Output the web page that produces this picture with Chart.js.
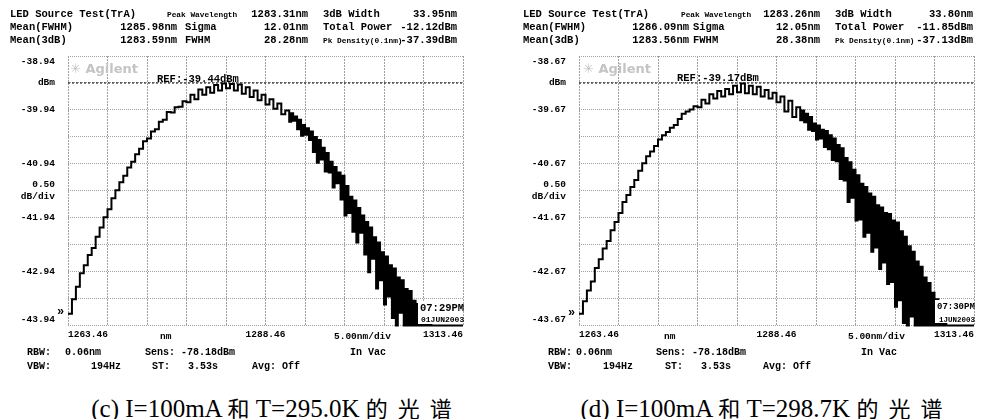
<!DOCTYPE html>
<html>
<head>
<meta charset="utf-8">
<script src="https://cdn.jsdelivr.net/npm/chart.js@4.4.0/dist/chart.umd.min.js"></script>
<style>
  body { margin: 0; background: #fff; }
  #page { position: relative; width: 986px; height: 419px; overflow: hidden;
          font-family: "Liberation Mono", monospace; color: #000; }
  .panel { position: absolute; top: 0; height: 350px; }
  .t { position: absolute; font-size: 10.5px; line-height: 12px; white-space: pre; font-weight: bold; }
  .s { font-size: 7.8px; }
  .b { font-size: 10px; }
  .ax { font-size: 9.5px; }
  .logo { position: absolute; color: #c4c4c4; font: bold 13px "DejaVu Sans", sans-serif; white-space: pre; }
  .stamp { position: absolute; background: #fff; }
  .cap { position: absolute; top: 393px; width: 493px; text-align: center; white-space: pre;
         font: 25px "Liberation Serif", "Noto Sans CJK SC", serif; line-height: 28px; }
  .cj { font-family: "Noto Sans CJK SC", sans-serif; font-size: 22px; }
  .ls { letter-spacing: 10px; }
</style>
</head>
<body>
<div id="page">
  <div class="panel" style="left:0;width:493px"><canvas id="chartC" width="493" height="350"></canvas></div>
  <div class="panel" style="left:511px;width:475px"><canvas id="chartD" width="475" height="350"></canvas></div>

  <!-- header, left -->
  <div class="t" style="left:10px;top:8px">LED Source Test(TrA)</div>
  <div class="t s" style="left:167px;top:9px">Peak Wavelength</div>
  <div class="t" style="right:678px;top:8px">1283.31nm</div>
  <div class="t" style="left:323px;top:8px">3dB Width</div>
  <div class="t" style="right:529px;top:8px">33.95nm</div>
  <div class="t" style="left:10px;top:21px">Mean(FWHM)</div>
  <div class="t" style="right:809px;top:21px">1285.98nm</div>
  <div class="t" style="left:185px;top:21px">Sigma</div>
  <div class="t" style="right:678px;top:21px">12.01nm</div>
  <div class="t" style="left:323px;top:21px">Total Power</div>
  <div class="t" style="right:529px;top:21px">-12.12dBm</div>
  <div class="t" style="left:10px;top:34px">Mean(3dB)</div>
  <div class="t" style="right:809px;top:34px">1283.59nm</div>
  <div class="t" style="left:185px;top:34px">FWHM</div>
  <div class="t" style="right:678px;top:34px">28.28nm</div>
  <div class="t s" style="left:323px;top:35px">Pk Density(0.1nm)</div>
  <div class="t" style="right:529px;top:34px">-37.39dBm</div>

  <!-- header, right -->
  <div class="t" style="left:523px;top:8px">LED Source Test(TrA)</div>
  <div class="t s" style="left:681px;top:9px">Peak Wavelength</div>
  <div class="t" style="right:166px;top:8px">1283.26nm</div>
  <div class="t" style="left:835px;top:8px">3dB Width</div>
  <div class="t" style="right:13px;top:8px">33.80nm</div>
  <div class="t" style="left:523px;top:21px">Mean(FWHM)</div>
  <div class="t" style="right:297px;top:21px">1286.09nm</div>
  <div class="t" style="left:693px;top:21px">Sigma</div>
  <div class="t" style="right:166px;top:21px">12.05nm</div>
  <div class="t" style="left:835px;top:21px">Total Power</div>
  <div class="t" style="right:13px;top:21px">-11.85dBm</div>
  <div class="t" style="left:523px;top:34px">Mean(3dB)</div>
  <div class="t" style="right:297px;top:34px">1283.56nm</div>
  <div class="t" style="left:693px;top:34px">FWHM</div>
  <div class="t" style="right:166px;top:34px">28.38nm</div>
  <div class="t s" style="left:835px;top:35px">Pk Density(0.1nm)</div>
  <div class="t" style="right:13px;top:34px">-37.13dBm</div>

  <!-- inside the plots -->
  <div class="logo" style="left:70px;top:61px">✳ Agilent</div>
  <div class="logo" style="left:583px;top:61px">✳ Agilent</div>
  <div class="t" style="left:157px;top:73px">REF:-39.44dBm</div>
  <div class="t" style="left:677px;top:72px">REF:-39.17dBm</div>
  <div class="stamp" style="left:418px;top:301px;width:45px;height:23px"></div>
  <div class="t" style="left:420px;top:302px">07:29PM</div>
  <div class="t" style="left:421px;top:314px;font-size:8px">01JUN2003</div>
  <div class="stamp" style="left:935px;top:300px;width:39px;height:23px"></div>
  <div class="t" style="left:937px;top:301px;font-size:9px">07:30PM</div>
  <div class="t" style="left:939px;top:314px;font-size:7.5px">1JUN2003</div>
  <div class="t" style="left:57px;top:306px;font-size:12px">»</div>
  <div class="t" style="left:568px;top:307px;font-size:12px">»</div>

  <!-- axis words -->
  <div class="t ax" style="left:160px;top:331px">nm</div>
  <div class="t ax" style="left:334px;top:331px">5.00nm/div</div>
  <div class="t ax" style="left:664px;top:331px">nm</div>
  <div class="t ax" style="left:848px;top:331px">5.00nm/div</div>

  <!-- instrument settings -->
  <div class="t b" style="left:27px;top:347px">RBW:</div>
  <div class="t b" style="left:65px;top:347px">0.06nm</div>
  <div class="t b" style="left:145px;top:347px">Sens: -78.18dBm</div>
  <div class="t b" style="left:350px;top:347px">In Vac</div>
  <div class="t b" style="left:27px;top:361px">VBW:</div>
  <div class="t b" style="right:865px;top:361px">194Hz</div>
  <div class="t b" style="left:152px;top:361px">ST:</div>
  <div class="t b" style="left:188px;top:361px">3.53s</div>
  <div class="t b" style="left:252px;top:361px">Avg: Off</div>

  <div class="t b" style="left:548px;top:347px">RBW:</div>
  <div class="t b" style="left:576px;top:347px">0.06nm</div>
  <div class="t b" style="left:656px;top:347px">Sens: -78.18dBm</div>
  <div class="t b" style="left:861px;top:347px">In Vac</div>
  <div class="t b" style="left:548px;top:361px">VBW:</div>
  <div class="t b" style="right:353px;top:361px">194Hz</div>
  <div class="t b" style="left:665px;top:361px">ST:</div>
  <div class="t b" style="left:701px;top:361px">3.53s</div>
  <div class="t b" style="left:763px;top:361px">Avg: Off</div>

  <div class="cap" style="left:30px">(c) I=100mA <span class="cj">和</span> T=295.0K <span class="cj ls">的光谱</span></div>
  <div class="cap" style="left:520px">(d) I=100mA <span class="cj">和</span> T=298.7K <span class="cj ls">的光谱</span></div>
</div>

<script>
// Wavelength samples of the trace (nm), shared by both scans.
// Finer sampling on the noisy long-wavelength tail.
const wavelengths = [
    1263.46, 1263.96, 1264.46, 1264.96, 1265.46, 1265.96, 1266.46, 1266.96, 1267.46, 1267.96,
    1268.46, 1268.96, 1269.46, 1269.96, 1270.46, 1270.96, 1271.46, 1271.96, 1272.46, 1272.96,
    1273.46, 1273.96, 1274.46, 1274.96, 1275.46, 1275.96, 1276.46, 1276.96, 1277.46, 1277.96,
    1278.46, 1278.96, 1279.46, 1279.96, 1280.46, 1280.96, 1281.46, 1281.96, 1282.46, 1282.96,
    1283.46, 1283.96, 1284.46, 1284.96, 1285.46, 1285.96, 1286.46, 1286.96, 1287.46, 1287.96,
    1288.46, 1288.96, 1289.46, 1289.96, 1290.46, 1290.96,
    1291.46, 1291.71, 1291.96, 1292.21, 1292.46, 1292.71, 1292.96, 1293.21, 1293.46, 1293.71,
    1293.96, 1294.21, 1294.46, 1294.71, 1294.96, 1295.21, 1295.46, 1295.71, 1295.96, 1296.21,
    1296.46, 1296.71, 1296.96, 1297.21, 1297.46, 1297.71, 1297.96, 1298.21, 1298.46, 1298.71,
    1298.96, 1299.21, 1299.46, 1299.71, 1299.96, 1300.21, 1300.46, 1300.71, 1300.96, 1301.21,
    1301.46, 1301.71, 1301.96, 1302.21, 1302.46, 1302.71, 1302.96, 1303.21, 1303.46, 1303.71,
    1303.96, 1304.21, 1304.46, 1304.71, 1304.96, 1305.21, 1305.46, 1305.71, 1305.96, 1306.21,
    1306.46, 1306.71, 1306.96, 1307.21, 1307.46, 1307.71, 1307.96, 1308.21, 1308.46, 1308.71,
    1308.96, 1309.21, 1309.46, 1309.71, 1309.96, 1310.21, 1310.46,
    1310.96, 1311.46, 1311.96, 1312.46, 1312.96, 1313.46
];

// (c) I=100mA, T=295.0K  (dBm)
const powerC = [
    -43.72, -43.45, -43.22, -42.97, -42.82, -42.63, -42.50, -42.29, -42.12, -41.93,
    -41.78, -41.58, -41.43, -41.28, -41.16, -41.01, -40.90, -40.76, -40.66, -40.52,
    -40.47, -40.34, -40.30, -40.16, -40.12, -39.98, -39.99, -39.89, -39.88, -39.78,
    -39.80, -39.66, -39.74, -39.56, -39.66, -39.52, -39.62, -39.48, -39.58, -39.45,
    -39.54, -39.46, -39.58, -39.47, -39.64, -39.52, -39.70, -39.58, -39.76, -39.66,
    -39.84, -39.74, -39.92, -39.82, -40.02, -39.95,
    -40.16, -40.00, -40.14, -40.06, -40.30, -40.12, -40.42, -40.22, -40.40, -40.28,
    -40.50, -40.34, -40.72, -40.44, -40.92, -40.50, -40.86, -40.64, -41.08, -40.74,
    -41.10, -40.90, -41.38, -41.00, -41.30, -41.10, -41.60, -41.16, -41.90, -41.35,
    -41.85, -41.55, -42.20, -41.62, -42.40, -41.76, -42.22, -41.90, -42.62, -42.02,
    -42.95, -42.12, -42.70, -42.30, -43.25, -42.40, -43.10, -42.58, -43.55, -42.66,
    -43.40, -42.82, -43.80, -42.88, -43.94, -43.05, -43.70, -43.10, -43.94, -43.26,
    -43.94, -43.30, -43.94, -43.48, -43.94, -43.54, -43.94, -43.70, -43.94, -43.78,
    -43.94, -43.88, -43.94, -43.94, -43.94, -43.94, -43.94,
    -43.94, -43.94, -43.94, -43.94, -43.94, -43.94
];

// (d) I=100mA, T=298.7K  (dBm)
const powerD = [
    -43.45, -43.22, -43.02, -42.85, -42.60, -42.44, -42.24, -42.10, -41.90, -41.75,
    -41.58, -41.38, -41.25, -41.10, -40.97, -40.80, -40.66, -40.53, -40.44, -40.34,
    -40.22, -40.14, -40.08, -40.00, -39.95, -39.84, -39.74, -39.70, -39.66, -39.60,
    -39.62, -39.48, -39.55, -39.38, -39.46, -39.32, -39.42, -39.28, -39.38, -39.22,
    -39.34, -39.18, -39.36, -39.22, -39.38, -39.24, -39.42, -39.30, -39.46, -39.35,
    -39.53, -39.42, -39.70, -39.50, -39.80, -39.62,
    -39.86, -39.68, -39.90, -39.74, -40.04, -39.80, -40.06, -39.92, -40.22, -39.96,
    -40.20, -40.04, -40.36, -40.06, -40.40, -40.14, -40.60, -40.20, -40.62, -40.32,
    -40.95, -40.38, -40.98, -40.56, -41.38, -40.64, -41.30, -40.78, -41.72, -40.88,
    -41.70, -41.04, -42.02, -41.10, -41.95, -41.22, -42.30, -41.28, -42.22, -41.44,
    -42.62, -41.48, -42.50, -41.58, -42.90, -41.60, -42.86, -41.72, -43.32, -41.76,
    -43.20, -41.92, -43.62, -42.02, -43.67, -42.20, -43.50, -42.30, -43.67, -42.48,
    -43.67, -42.58, -43.67, -42.78, -43.67, -42.88, -43.67, -43.06, -43.67, -43.18,
    -43.67, -43.46, -43.67, -43.56, -43.67, -43.67, -43.67,
    -43.67, -43.67, -43.67, -43.67, -43.67, -43.67
];

// Axis ticks (bottom to top for y)
const xTicks = [1263.46, 1268.46, 1273.46, 1278.46, 1283.46, 1288.46, 1293.46, 1298.46, 1303.46, 1308.46, 1313.46];
const xLabels = ['1263.46', '', '', '', '', '1288.46', '', '', '', '', '1313.46'];

const yTicksC = [-43.94, -43.44, -42.94, -42.44, -41.94, -41.44, -40.94, -40.44, -39.94, -39.44, -38.94];
const yLabelsC = [['-43.94', ''], '', '-42.94', '', '-41.94', ['0.50', 'dB/div'], '-40.94', '', '-39.94', 'dBm', ['', '-38.94']];
const yTicksD = [-43.67, -43.17, -42.67, -42.17, -41.67, -41.17, -40.67, -40.17, -39.67, -39.17, -38.67];
const yLabelsD = [['-43.67', ''], '', '-42.67', '', '-41.67', ['0.50', 'dB/div'], '-40.67', '', '-39.67', 'dBm', ['', '-38.67']];

const refC = -39.44;
const refD = -39.17;

const tickFont = { family: 'Liberation Mono', size: 9.5, weight: 'bold' };

function drawScan(canvasId, power, yTicks, yLabels, refLevel, padRight) {
    const ctx = document.getElementById(canvasId).getContext('2d');
    const xMin = xTicks[0], xMax = xTicks[xTicks.length - 1];

    return new Chart(ctx, {
        type: 'line',
        data: {
            datasets: [
                {
                    data: wavelengths.map((w, i) => ({ x: w, y: power[i] })),
                    borderColor: '#000',
                    borderWidth: 2,
                    stepped: true,
                    pointRadius: 0,
                    clip: 2
                },
                {
                    // reference level marker
                    data: [{ x: xMin, y: refLevel }, { x: xMax, y: refLevel }],
                    borderColor: '#3a3a3a',
                    borderWidth: 1.4,
                    borderDash: [2, 2],
                    pointRadius: 0
                }
            ]
        },
        options: {
            responsive: false,
            animation: false,
            devicePixelRatio: 1,
            layout: { padding: { left: 0, right: padRight, top: 56, bottom: 6 } },
            plugins: { legend: { display: false }, tooltip: { enabled: false } },
            scales: {
                x: {
                    type: 'linear',
                    min: xMin,
                    max: xMax,
                    afterBuildTicks: s => { s.ticks = xTicks.map(v => ({ value: v })); },
                    afterFit: s => { s.height = 16; },
                    ticks: {
                        autoSkip: false, maxRotation: 0, align: 'inner', padding: 3,
                        color: '#000', font: tickFont,
                        callback: (v, i) => xLabels[i]
                    },
                    grid: { color: '#a0a0a0', drawTicks: false },
                    border: { display: false, dash: [2, 1] }
                },
                y: {
                    min: yTicks[0],
                    max: yTicks[yTicks.length - 1],
                    afterBuildTicks: s => { s.ticks = yTicks.map(v => ({ value: v })); },
                    afterFit: s => { s.width = 68; },
                    ticks: {
                        autoSkip: false, padding: 13,
                        color: '#000', font: tickFont,
                        callback: (v, i) => yLabels[i]
                    },
                    grid: { color: '#a0a0a0', drawTicks: false },
                    border: { display: false, dash: [1, 1] }
                }
            }
        }
    });
}

drawScan('chartC', powerC, yTicksC, yLabelsC, refC, 30);
drawScan('chartD', powerD, yTicksD, yLabelsD, refD, 12);
</script>
</body>
</html>
